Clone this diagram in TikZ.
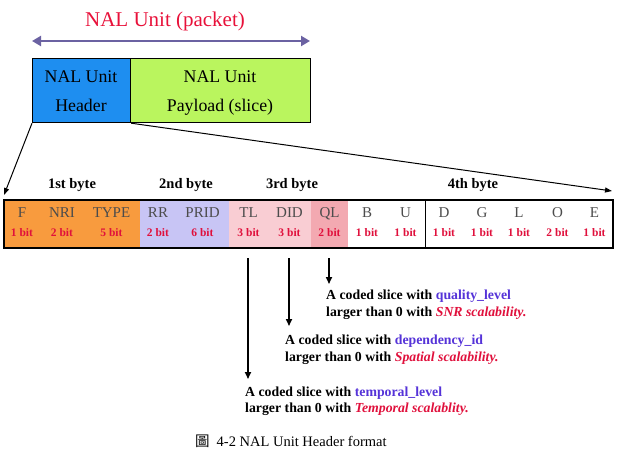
\documentclass[tikz,border=0pt]{standalone}
\usepackage{fontspec}
\setmainfont{Liberation Serif}
\newfontfamily\cjk{Noto Sans CJK TC}
\usetikzlibrary{arrows.meta}
\definecolor{ttlred}{HTML}{E8113A}
\definecolor{arrpurple}{HTML}{6B62A2}
\definecolor{hdrblue}{HTML}{1E8EF0}
\definecolor{payg}{HTML}{BAF55E}
\definecolor{org}{HTML}{F89B3E}
\definecolor{lav}{HTML}{C8C5F5}
\definecolor{pk}{HTML}{F9CDD3}
\definecolor{pkd}{HTML}{F3A9B1}
\definecolor{bitred}{HTML}{E0103C}
\definecolor{blu}{HTML}{5533D8}
\begin{document}
\begin{tikzpicture}[x=1pt,y=-1pt,
  fname/.style={font=\fontsize{15}{15}\selectfont, text=black!70, anchor=base},
  fbit/.style={font=\bfseries\fontsize{11.5}{12}\selectfont, text=bitred, anchor=base},
  bytelab/.style={font=\bfseries\fontsize{14.5}{15}\selectfont, anchor=base},
  boxtext/.style={font=\fontsize{17.8}{18}\selectfont, anchor=base},
  note/.style={font=\bfseries\fontsize{13.8}{16}\selectfont, anchor=base west, inner sep=0pt},
  dnarrow/.style={line width=1.6pt, -{Triangle[length=7pt,width=6pt]}}]
\useasboundingbox (0,0) rectangle (623,453);

% title
\node[font=\fontsize{21}{21}\selectfont, text=ttlred, anchor=base] (title) at (165,26) {NAL Unit (packet)};
\coordinate (al) at (32,41);
\coordinate (ar) at (310,41);
\draw[arrpurple, line width=2.6pt, {Triangle[length=9pt,width=10pt]}-{Triangle[length=9pt,width=10pt]}] (al) -- (ar);

% NAL unit boxes
\node[draw=black, line width=1.2pt, fill=hdrblue, minimum width=98pt, minimum height=64pt, anchor=north west, inner sep=0pt] (hdr) at (32,58) {};
\node[draw=black, line width=1.2pt, fill=payg, minimum width=180pt, minimum height=64pt, anchor=north west, inner sep=0pt] (pay) at (130,58) {};
\node[boxtext] at (81,82) {NAL Unit};
\node[boxtext] at (81,111) {Header};
\node[boxtext] at (220,82) {NAL Unit};
\node[boxtext] at (220,111) {Payload (slice)};

% byte labels
\node[bytelab] at (72,188) {1st byte};
\node[bytelab] at (186,188) {2nd byte};
\node[bytelab] at (292,188) {3rd byte};
\node[bytelab] at (473,188) {4th byte};

% fields
\foreach \n/\a/\b/\c/\t/\bits in {
  F/3/41/org/F/1 bit,
  NRI/41/83/org/NRI/2 bit,
  TYPE/83/140/org/TYPE/5 bit,
  RR/140/176/lav/RR/2 bit,
  PRID/176/229/lav/PRID/6 bit,
  TL/229/268/pk/TL/3 bit,
  DID/268/311/pk/DID/3 bit,
  QL/311/348/pkd/QL/2 bit,
  B/348/386/white/B/1 bit,
  U/386/425/white/U/1 bit,
  L/500/538/white/L/1 bit,
  O/538/577/white/O/2 bit,
  E/577/612/white/E/1 bit} {
  \fill[\c] (\a,199) rectangle (\b,247);
  \draw[line width=0.6pt] (\b,199) -- (\b,247);
  \node[fname] (\n) at ({(\a+\b)/2},217) {\t};
  \node[fbit] at ({(\a+\b)/2},236) {\bits};
}
\node[fname] (D) at (444,217) {D};
\node[fbit] at (444,236) {1 bit};
\node[fname] (G) at (482,217) {G};
\node[fbit] at (482,236) {1 bit};
\node[draw=black, line width=1.6pt, minimum width=609pt, minimum height=48pt, anchor=north west, inner sep=0pt] (row) at (3,199) {};

% expansion lines
\coordinate (fl) at (4,195);
\coordinate (fr) at (612,191);
\draw[line width=1pt, -{Triangle[length=7pt,width=5pt]}] (hdr.south west) -- (fl);
\draw[line width=1pt, -{Triangle[length=7pt,width=5pt]}] (hdr.south east) -- (fr);

% down arrows and notes
\coordinate (tla) at (248,258);
\coordinate (tlb) at (248,379);
\coordinate (dida) at (289,258);
\coordinate (didb) at (289,326);
\coordinate (qla) at (329,258);
\coordinate (qlb) at (329,284);
\draw[dnarrow] (tla) -- (tlb);
\draw[dnarrow] (dida) -- (didb);
\draw[dnarrow] (qla) -- (qlb);

\node[note] (nq1) at (326,299) {A coded slice with \textcolor{blu}{quality\_level}};
\node[note] (nq2) at (326,316) {larger than 0 with \textcolor{bitred}{\itshape SNR scalability.}};
\node[note] (nd1) at (285,344) {A coded slice with \textcolor{blu}{dependency\_id}};
\node[note] (nd2) at (285,361) {larger than 0 with \textcolor{bitred}{\itshape Spatial scalability.}};
\node[note] (nt1) at (245,396) {A coded slice with \textcolor{blu}{temporal\_level}};
\node[note] (nt2) at (245,412) {larger than 0 with \textcolor{bitred}{\itshape Temporal scalablity.}};

% caption
\node[anchor=base west, inner sep=0pt, font=\fontsize{14.5}{14.5}\selectfont] (cap) at (195,446) {{\cjk 圖}\hspace{7pt}4-2 NAL Unit Header format};
\end{tikzpicture}
\end{document}
